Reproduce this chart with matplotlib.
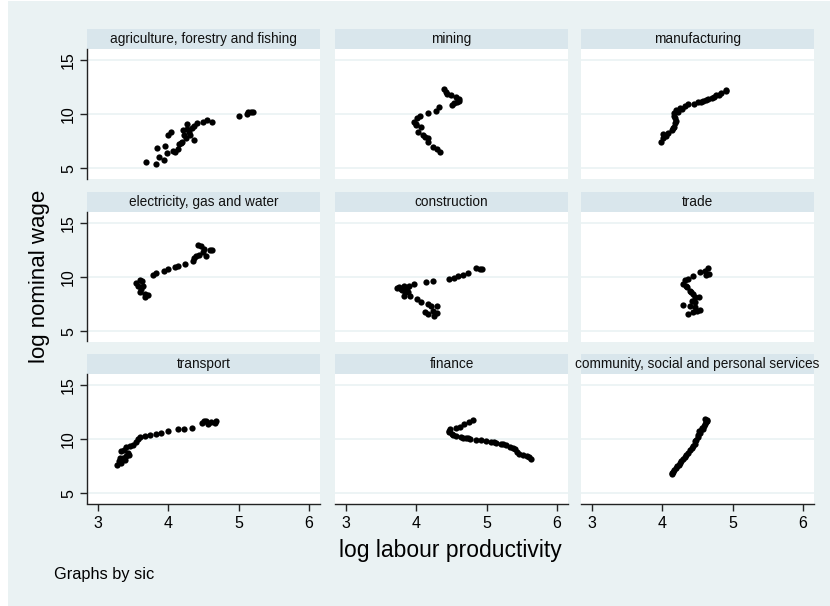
import matplotlib
matplotlib.use("Agg")
import matplotlib.pyplot as plt
from matplotlib.patches import Rectangle

plt.rcParams['font.family'] = ['Liberation Sans', 'DejaVu Sans']

sectors = ["agriculture, forestry and fishing", "mining", "manufacturing",
           "electricity, gas and water", "construction", "trade",
           "transport", "finance", "community, social and personal services"]

agri_x = [3.68, 3.82, 3.84, 3.86, 3.95, 3.94, 3.98, 4.00, 4.03, 4.07, 4.14, 4.15, 4.19, 4.21,
          4.22, 4.25, 4.26, 4.27, 4.31, 4.36, 4.36, 4.41, 4.49, 4.55, 4.62, 5.00, 5.12, 5.14,
          5.17, 5.21, 4.33, 4.29, 4.18, 4.10]
agri_y = [5.58, 5.40, 6.88, 6.02, 7.04, 5.74, 6.36, 8.06, 8.30, 6.57, 6.73, 7.19, 7.44, 8.49,
          8.06, 7.75, 9.07, 8.60, 8.06, 7.60, 8.90, 9.14, 9.23, 9.41, 9.23, 9.84, 9.97, 10.20,
          10.15, 10.20, 8.75, 8.30, 7.30, 6.50]

mining_x = [4.39, 4.42, 4.44, 4.49, 4.56, 4.61, 4.58, 4.51, 4.32, 4.28, 4.17, 4.05, 4.01, 3.96,
            3.99, 4.06, 4.02, 4.09, 4.16, 4.16, 4.23, 4.29, 4.34, 4.60, 4.54, 4.00, 4.12]
mining_y = [12.31, 12.07, 11.82, 11.76, 11.60, 11.39, 11.08, 10.83, 10.68, 10.28, 10.06, 9.84,
            9.60, 9.29, 8.98, 8.82, 8.36, 8.06, 7.75, 7.38, 6.97, 6.76, 6.51, 11.20, 11.00,
            9.10, 7.90]

manuf_x = [3.98, 4.01, 4.01, 4.08, 4.13, 4.17, 4.18, 4.18, 4.16, 4.20, 4.25, 4.32, 4.37, 4.45,
           4.51, 4.58, 4.65, 4.70, 4.77, 4.84, 4.90, 4.91, 4.05, 4.15, 4.19, 4.17, 4.22, 4.28,
           4.55, 4.62, 4.74, 4.80]
manuf_y = [7.38, 7.75, 8.12, 8.21, 8.52, 8.82, 9.14, 9.60, 10.06, 10.37, 10.58, 10.77, 10.90,
           10.95, 11.08, 11.20, 11.39, 11.51, 11.76, 11.92, 12.13, 12.20, 7.95, 8.70, 9.35,
           9.85, 10.20, 10.50, 11.10, 11.25, 11.60, 11.80]

elec_x = [3.54, 3.59, 3.56, 3.61, 3.59, 3.66, 3.71, 3.66, 3.64, 3.78, 3.83, 3.94, 3.99, 4.09,
          4.13, 4.24, 4.35, 4.37, 4.40, 4.44, 4.42, 4.47, 4.51, 4.49, 4.53, 4.62, 4.59, 3.63]
elec_y = [9.46, 9.68, 9.21, 8.91, 8.66, 8.44, 8.35, 8.13, 9.21, 10.20, 10.35, 10.60, 10.76,
          10.97, 11.06, 11.19, 11.44, 11.74, 11.93, 11.99, 12.98, 12.82, 12.61, 12.30, 11.93,
          12.45, 12.50, 9.60]

constr_x = [3.72, 3.75, 3.78, 3.82, 3.90, 3.97, 3.84, 3.82, 3.88, 3.91, 4.01, 4.06, 4.17, 4.21,
            4.29, 4.23, 4.12, 4.16, 4.25, 4.29, 4.13, 4.24, 4.47, 4.53, 4.59, 4.66, 4.73, 4.85,
            4.91, 4.93, 3.80, 3.86]
constr_y = [8.96, 9.06, 8.91, 9.21, 9.21, 9.37, 8.59, 8.29, 8.66, 8.22, 7.98, 7.67, 7.52, 7.30,
            7.36, 6.90, 6.74, 6.59, 6.44, 6.69, 9.58, 9.64, 9.83, 9.93, 10.08, 10.23, 10.39,
            10.81, 10.76, 10.70, 8.80, 8.95]

trade_x = [4.32, 4.36, 4.30, 4.35, 4.39, 4.44, 4.46, 4.52, 4.42, 4.46, 4.30, 4.39, 4.37, 4.43,
           4.49, 4.53, 4.44, 4.54, 4.60, 4.65, 4.67, 4.62, 4.33, 4.41, 4.47]
trade_y = [9.68, 9.83, 9.37, 9.06, 8.75, 8.44, 8.13, 8.13, 7.82, 7.67, 7.43, 7.30, 6.59, 6.81,
           6.90, 6.99, 10.08, 10.45, 10.60, 10.81, 10.30, 10.20, 9.20, 8.60, 7.20]

transp_x = [3.27, 3.29, 3.33, 3.31, 3.35, 3.40, 3.44, 3.33, 3.37, 3.40, 3.45, 3.49, 3.54, 3.56,
            3.59, 3.67, 3.74, 3.83, 3.90, 3.99, 4.13, 4.22, 4.34, 4.48, 4.51, 4.56, 4.61, 4.66,
            4.68, 4.54, 3.38, 3.42]
transp_y = [7.63, 7.94, 7.79, 8.25, 8.25, 8.47, 8.56, 8.87, 9.02, 9.27, 9.40, 9.49, 9.70, 10.02,
            10.20, 10.26, 10.33, 10.45, 10.58, 10.73, 10.88, 10.95, 11.04, 11.44, 11.66, 11.35,
            11.56, 11.44, 11.66, 11.70, 8.10, 8.70]

fin_x = [4.80, 4.75, 4.68, 4.62, 4.56, 4.48, 4.47, 4.50, 4.56, 4.63, 4.70, 4.77, 4.85, 4.92,
         4.99, 5.06, 5.13, 5.20, 5.27, 5.34, 5.40, 5.44, 5.46, 5.52, 5.58, 5.63, 5.60, 4.46,
         4.52, 4.66, 4.73, 5.10, 5.24, 5.37]
fin_y = [11.75, 11.56, 11.35, 11.13, 11.00, 10.88, 10.63, 10.42, 10.26, 10.17, 10.07, 10.02,
         9.95, 9.89, 9.80, 9.77, 9.65, 9.58, 9.42, 9.27, 9.09, 8.77, 8.65, 8.56, 8.40, 8.16,
         8.30, 10.75, 10.33, 10.12, 10.05, 9.70, 9.50, 9.20]

comm_x = [4.13, 4.15, 4.19, 4.24, 4.27, 4.32, 4.37, 4.42, 4.46, 4.48, 4.51, 4.52, 4.56, 4.59,
          4.62, 4.64, 4.14, 4.17, 4.21, 4.25, 4.30, 4.34, 4.40, 4.44, 4.47, 4.50, 4.54, 4.57,
          4.60, 4.63, 4.61, 4.58]
comm_y = [6.79, 7.00, 7.32, 7.63, 8.00, 8.34, 8.72, 9.18, 9.58, 9.95, 10.33, 10.73, 10.88,
          11.19, 11.56, 11.75, 6.90, 7.15, 7.48, 7.80, 8.17, 8.52, 8.95, 9.38, 9.78, 10.15,
          10.55, 11.00, 11.35, 11.65, 11.85, 10.95]

series = [(agri_x, agri_y), (mining_x, mining_y), (manuf_x, manuf_y),
          (elec_x, elec_y), (constr_x, constr_y), (trade_x, trade_y),
          (transp_x, transp_y), (fin_x, fin_y), (comm_x, comm_y)]

x_ticks = [3, 4, 5, 6]
y_ticks = [5, 10, 15]

W, H = 830, 606
BG = '#EAF2F3'
STRIP = '#D9E6EC'
GRID = '#EAF2F3'

fig = plt.figure(figsize=(W / 100, H / 100), dpi=100)
fig.patch.set_facecolor('white')
fig.patches.append(Rectangle((8 / W, 0), 1 - 8 / W, 1 - 1 / H, transform=fig.transFigure,
                             facecolor=BG, edgecolor='none', zorder=-10))

col_left = [87, 335, 581]
row_top = [49, 212, 374]
pw, ph = 233, 129.5
strip_h = 20

for i, (name, (xs, ys)) in enumerate(zip(sectors, series)):
    r, c = divmod(i, 3)
    l = col_left[c]
    t = row_top[r]
    ax = fig.add_axes([l / W, 1 - (t + ph) / H, pw / W, ph / H])
    ax.set_zorder(1)
    ax.set_facecolor('white')
    ax.set_xlim(2.84, 6.16)
    ax.set_ylim(4.05, 16.0)
    ax.set_xticks(x_ticks)
    ax.set_yticks(y_ticks)
    for yv in y_ticks:
        ax.axhline(yv, color=GRID, lw=1.2, zorder=1)
    ax.plot(xs, ys, 'o', color='black', markersize=4.5, markeredgewidth=0, zorder=3)
    for s in ['top', 'right']:
        ax.spines[s].set_visible(False)
    ax.spines['left'].set_visible(c == 0)
    ax.spines['bottom'].set_visible(r == 2)
    for s in ['left', 'bottom']:
        ax.spines[s].set_color('#222222')
        ax.spines[s].set_linewidth(1.0)
    ax.tick_params(axis='y', left=(c == 0), labelleft=(c == 0), length=5, width=1,
                   color='#222222', labelsize=11.5, pad=3)
    ax.tick_params(axis='x', bottom=(r == 2), labelbottom=(r == 2), length=5, width=1,
                   color='#222222', labelsize=11.5, pad=4)
    if c == 0:
        for lab in ax.get_yticklabels():
            lab.set_rotation(90)
            lab.set_va('center')
    hfrac = strip_h / ph
    ax.add_patch(Rectangle((0, 1), 1, hfrac, transform=ax.transAxes, facecolor=STRIP,
                           edgecolor='none', clip_on=False, zorder=2))
    ax.text(0.5, 1 + hfrac / 2, name, transform=ax.transAxes, ha='center', va='center',
            fontsize=9.8, color='#111111')

fig.text(40 / W, 1 - 276 / H, 'log nominal wage', rotation=90, ha='center', va='center',
         fontsize=16)
fig.text(450 / W, 1 - 551 / H, 'log labour productivity', ha='center', va='center',
         fontsize=16.5)
fig.text(54 / W, 1 - 574 / H, 'Graphs by sic', ha='left', va='center', fontsize=11.8)

fig.savefig('out.png', dpi=100, facecolor=fig.get_facecolor())
